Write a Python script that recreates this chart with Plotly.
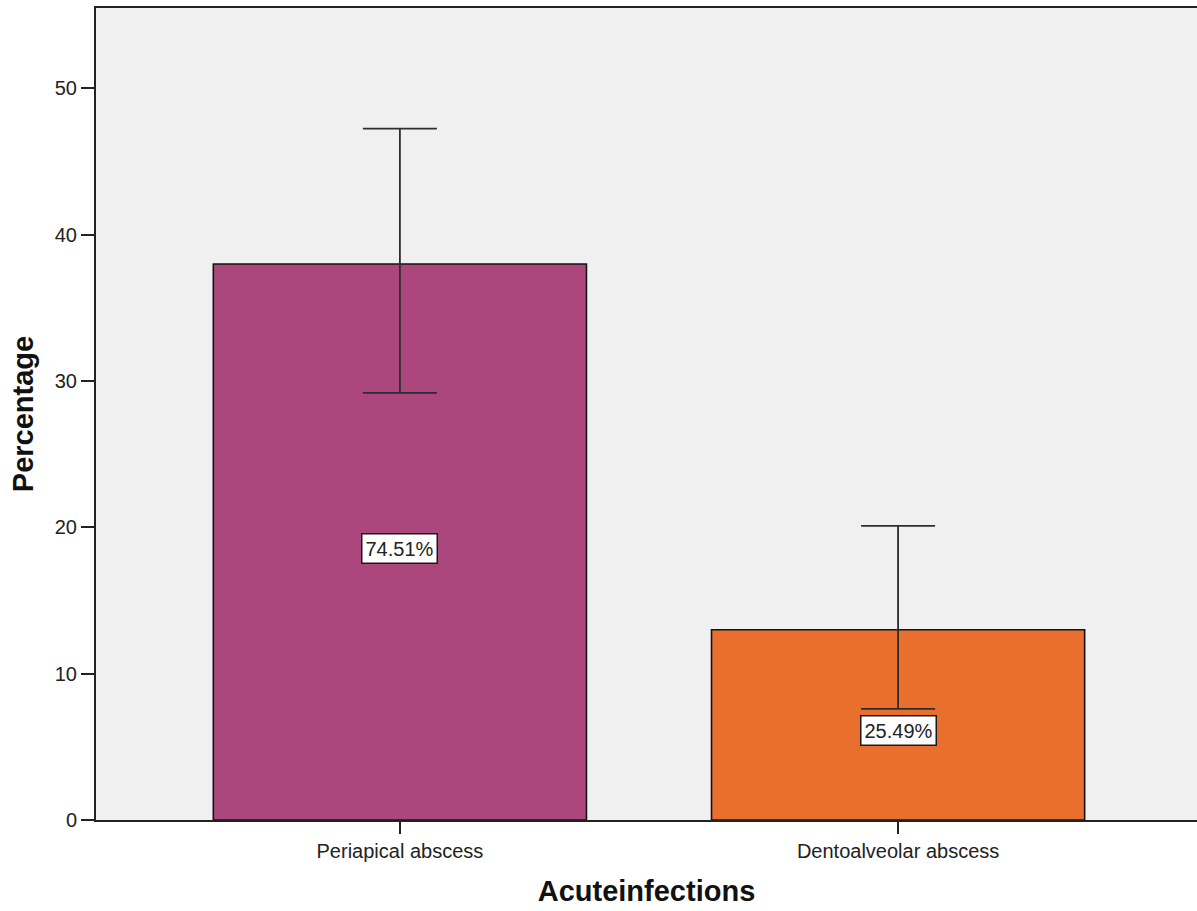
import plotly.graph_objects as go

# Acute infection types: mean percentage with error bars and share labels
categories = ["Periapical abscess", "Dentoalveolar abscess"]
percentages = [38.0, 13.0]
err_plus = [9.26, 7.1]
err_minus = [8.8, 5.4]
share_labels = ["74.51%", "25.49%"]
bar_colors = ["#ab477c", "#e96f2f"]
y_ticks = [0, 10, 20, 30, 40, 50]

font_family = "Liberation Sans, Arial, Helvetica, sans-serif"

fig = go.Figure()
fig.add_trace(go.Bar(
    x=[0, 1],
    y=percentages,
    width=0.749,
    marker=dict(color=bar_colors, line=dict(color="#141414", width=1.6)),
    error_y=dict(
        type="data", symmetric=False,
        array=err_plus, arrayminus=err_minus,
        color="#2e2e2e", thickness=1.8, width=37,
    ),
    hoverinfo="skip",
))

for i, (val, lab) in enumerate(zip(percentages, share_labels)):
    fig.add_annotation(
        x=i, y=val / 2, yshift=-6, text=lab, showarrow=False,
        font=dict(family=font_family, size=20, color="#222222"),
        bgcolor="white", bordercolor="#1a1a1a", borderwidth=1.5, borderpad=3,
    )

fig.update_layout(
    width=1197, height=911,
    margin=dict(l=96, r=0, t=8, b=91),
    paper_bgcolor="white",
    plot_bgcolor="#f0f0f0",
    showlegend=False,
    font=dict(family=font_family, color="#222222"),
    xaxis=dict(
        range=[-0.610, 1.600],
        tickvals=[0, 1], ticktext=categories,
        ticks="outside", ticklen=12, tickwidth=2, tickcolor="#222222",
        tickfont=dict(size=20, color="#222222"),
        showline=True, linecolor="#222222", linewidth=2, mirror=True,
        showgrid=False, zeroline=False,
        title=dict(text="<b>Acuteinfections</b>", font=dict(size=29, color="#111111"), standoff=20),
    ),
    yaxis=dict(
        range=[0, 55.5],
        tickvals=y_ticks,
        ticks="outside", ticklen=13, tickwidth=2, tickcolor="#222222",
        tickfont=dict(size=20, color="#222222"),
        showline=True, linecolor="#222222", linewidth=2,
        showgrid=False, zeroline=False,
        title=dict(text="<b>Percentage</b>", font=dict(size=29, color="#111111"), standoff=13),
    ),
)

fig.write_html("out.html")
